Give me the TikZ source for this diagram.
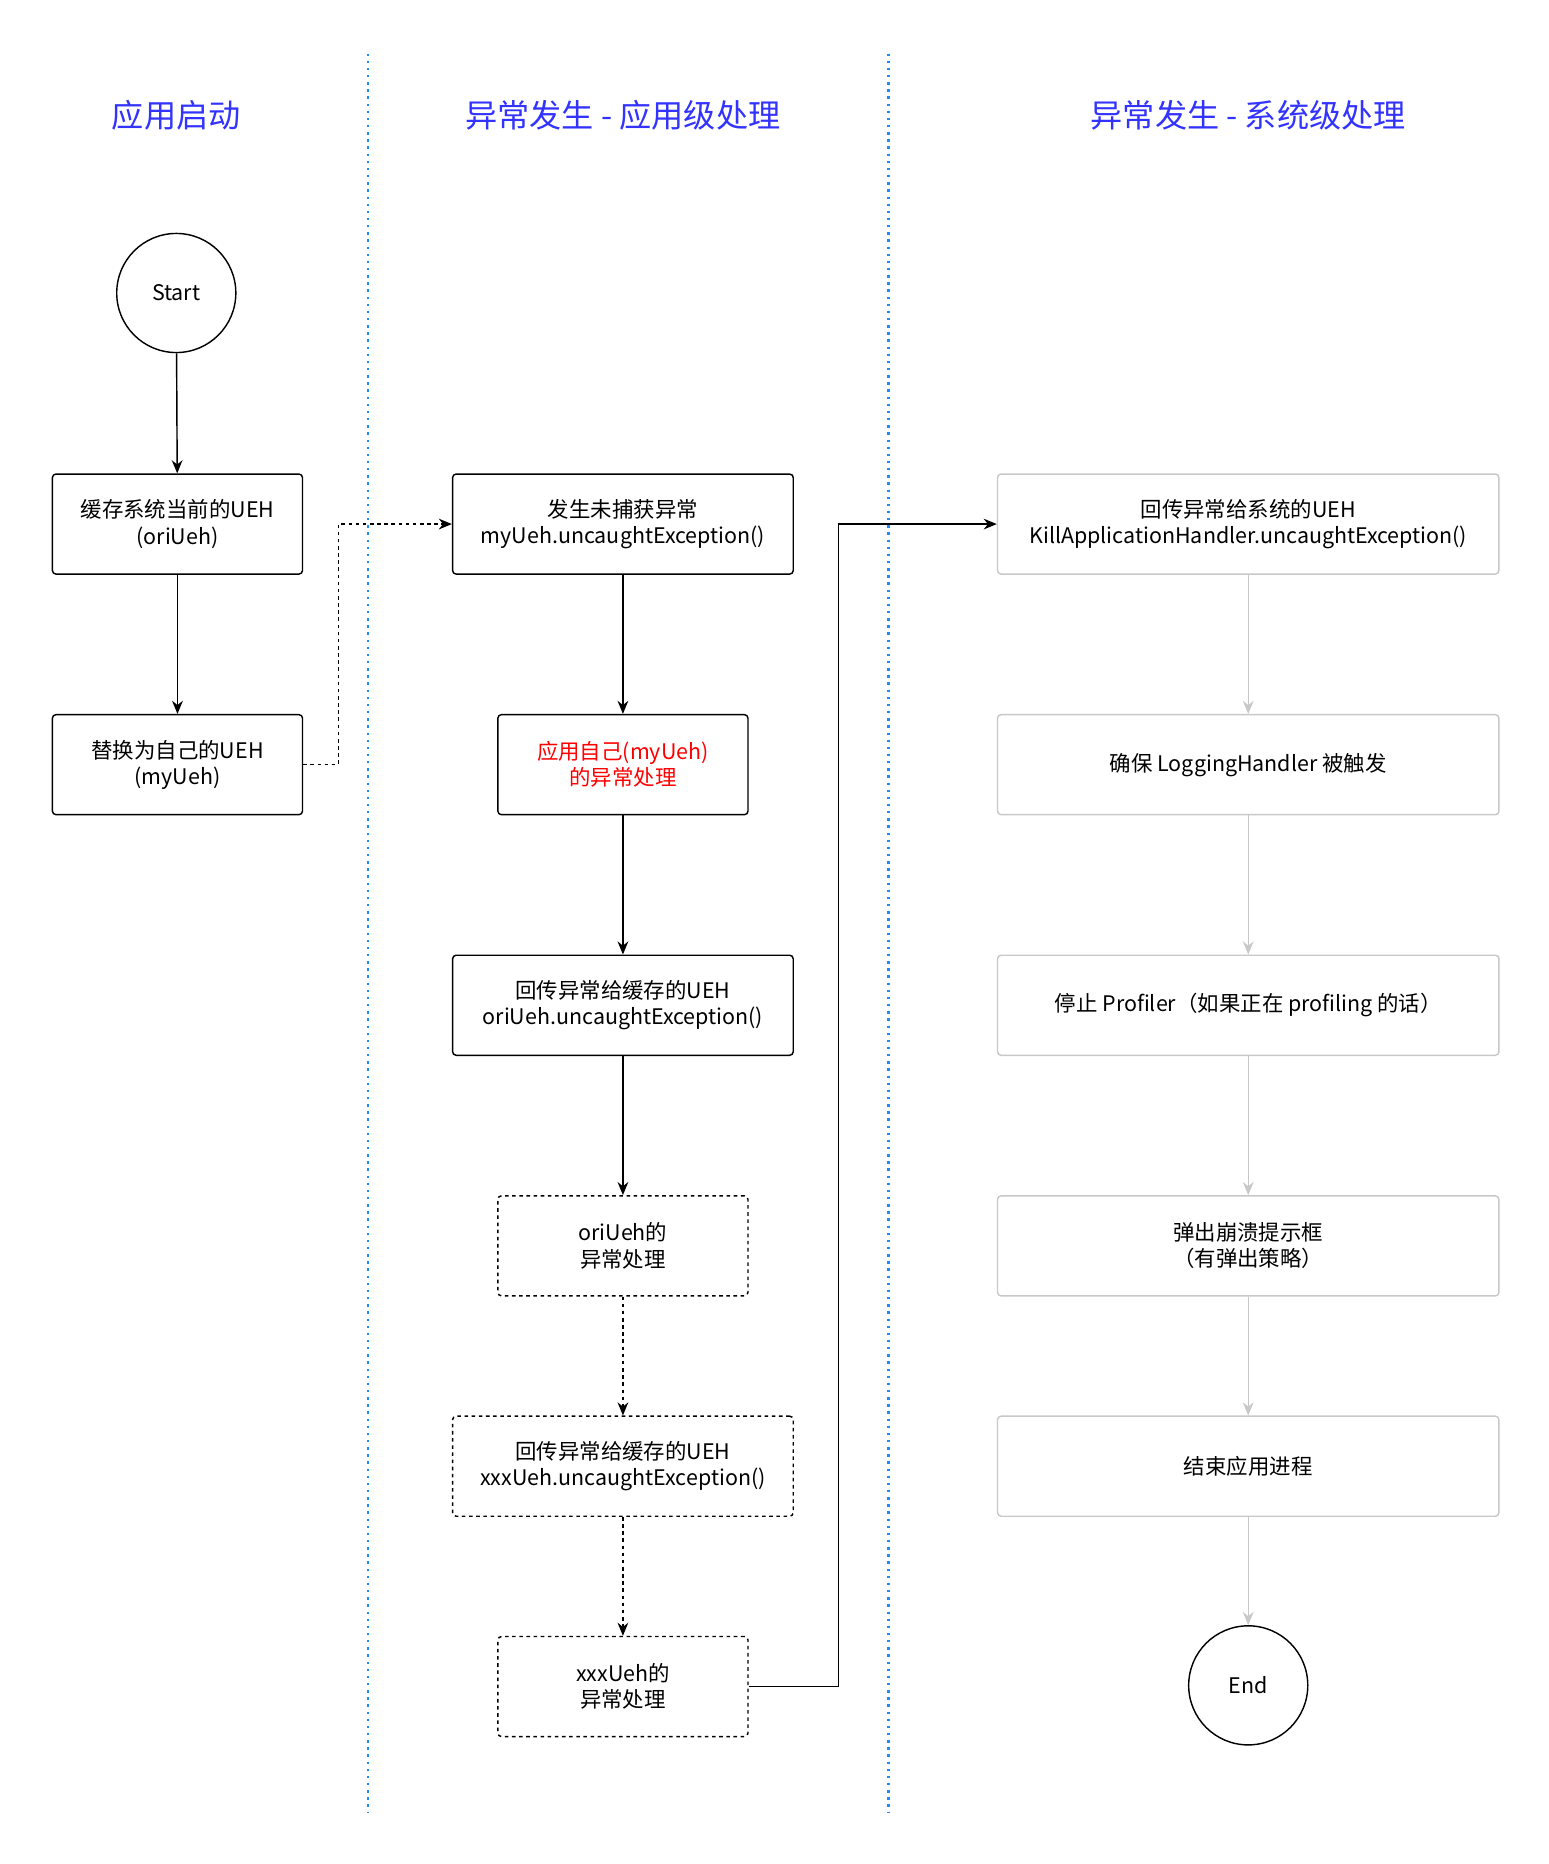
\documentclass[tikz,border=0pt]{standalone}
\usepackage{fontspec}
\setmainfont{Noto Sans CJK SC}
\usetikzlibrary{arrows.meta}
\definecolor{hdr}{HTML}{3333FF}
\definecolor{sep}{HTML}{1A8CFF}
\definecolor{gr}{HTML}{C8C8C8}
\begin{document}
\begin{tikzpicture}[x=1pt,y=-1pt,
  font=\fontsize{18}{22}\selectfont,
  box/.style={draw,rounded corners=3pt,line width=1.2pt,align=center,minimum height=84pt,inner sep=0pt},
  w1/.style={minimum width=210pt},
  w2/.style={minimum width=286pt},
  w3/.style={minimum width=421pt,draw=gr},
  dsh/.style={dashed},
  circ/.style={draw,circle,line width=1.2pt,minimum size=100pt,inner sep=0pt},
  hd/.style={text=hdr,font=\fontsize{27}{32}\selectfont},
  arr/.style={-{Stealth[length=11pt,width=9pt]},line width=1.2pt},
  garr/.style={arr,draw=gr},
  sepl/.style={draw=sep,line width=2pt,dash pattern=on 2pt off 4pt}]
\useasboundingbox (0,0) rectangle (1300,1565);
\node[hd] (h1) at (148,97) {应用启动};
\node[hd] (h2) at (523,97) {异常发生 - 应用级处理};
\node[hd] (h3) at (1048,97) {异常发生 - 系统级处理};
\coordinate (s1a) at (309,45); \coordinate (s1b) at (309,1522);
\coordinate (s2a) at (746,45); \coordinate (s2b) at (746,1522);
\draw[sepl] (s1a) -- (s1b);
\draw[sepl] (s2a) -- (s2b);

\node[circ] (start) at (148,246) {Start};
\node[box,w1] (a1) at (149,440) {缓存系统当前的UEH\\(oriUeh)};
\node[box,w1] (a2) at (149,642) {替换为自己的UEH\\(myUeh)};

\node[box,w2] (b1) at (523,440) {发生未捕获异常\\myUeh.uncaughtException()};
\node[box,w1,text=red] (b2) at (523,642) {应用自己(myUeh)\\的异常处理};
\node[box,w2] (b3) at (523,844) {回传异常给缓存的UEH\\oriUeh.uncaughtException()};
\node[box,w1,dsh] (b4) at (523,1046) {oriUeh的\\异常处理};
\node[box,w2,dsh] (b5) at (523,1231) {回传异常给缓存的UEH\\xxxUeh.uncaughtException()};
\node[box,w1,dsh] (b6) at (523,1416) {xxxUeh的\\异常处理};

\node[box,w3] (c1) at (1048,440) {回传异常给系统的UEH\\KillApplicationHandler.uncaughtException()};
\node[box,w3] (c2) at (1048,642) {确保 LoggingHandler 被触发};
\node[box,w3] (c3) at (1048,844) {停止 Profiler（如果正在 profiling 的话）};
\node[box,w3] (c4) at (1048,1046) {弹出崩溃提示框\\（有弹出策略）};
\node[box,w3] (c5) at (1048,1231) {结束应用进程};
\node[circ] (end) at (1048,1415) {End};

\draw[arr] (start) -- (a1);
\draw[arr] (a1) -- (a2);
\draw[arr,dashed] (a2.east) -| (284,540) |- (b1.west);
\draw[arr] (b1) -- (b2);
\draw[arr] (b2) -- (b3);
\draw[arr] (b3) -- (b4);
\draw[arr,dashed] (b4) -- (b5);
\draw[arr,dashed] (b5) -- (b6);
\draw[arr] (b6.east) -| (704,900) |- (c1.west);
\draw[garr] (c1) -- (c2);
\draw[garr] (c2) -- (c3);
\draw[garr] (c3) -- (c4);
\draw[garr] (c4) -- (c5);
\draw[garr] (c5) -- (end);
\end{tikzpicture}
\end{document}
